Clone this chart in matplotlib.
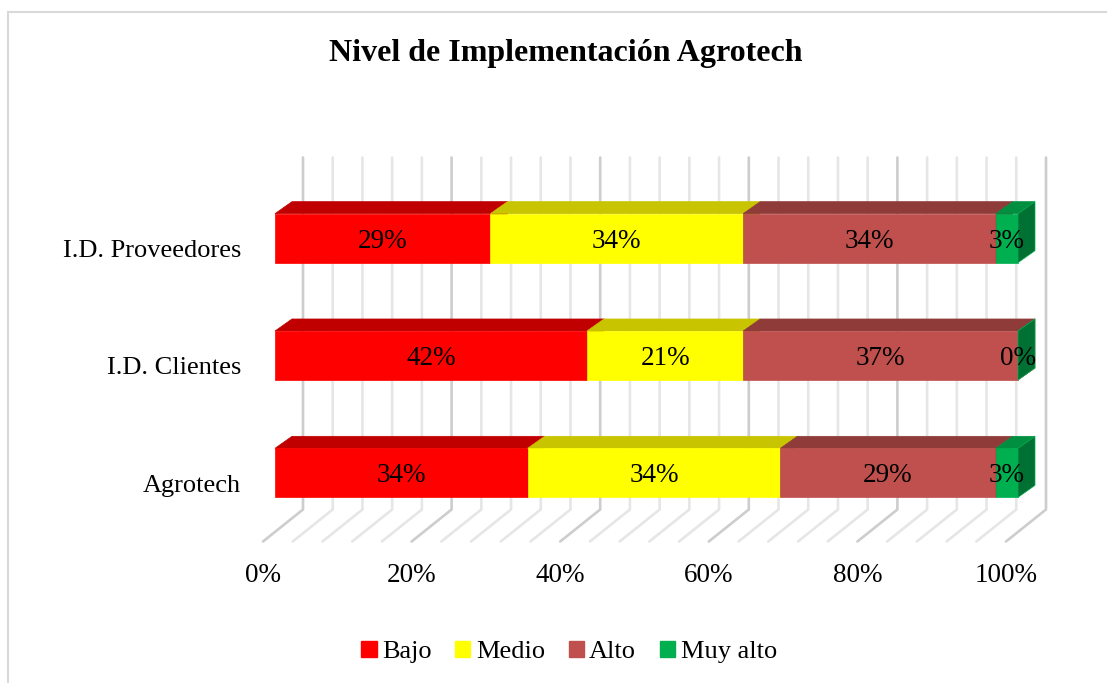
import matplotlib
matplotlib.use("Agg")
import matplotlib.pyplot as plt
from matplotlib.patches import Polygon, Patch, Rectangle
from matplotlib.transforms import offset_copy

# Datos del gráfico (porcentajes)
categorias = ["Agrotech", "I.D. Clientes", "I.D. Proveedores"]
series = ["Bajo", "Medio", "Alto", "Muy alto"]
bajo = [34, 42, 29]
medio = [34, 21, 34]
alto = [29, 37, 34]
muy_alto = [3, 0, 3]
ticks_x = [0, 20, 40, 60, 80, 100]

# colores: frente, cara superior, cara lateral
frente = ["#FF0000", "#FFFF00", "#C0504D", "#00B050"]
arriba = ["#C00000", "#C8C400", "#8E3B39", "#008E40"]
lado = ["#A00000", "#A8A400", "#7A3230", "#007033"]

plt.rcParams["font.family"] = ["Liberation Serif", "DejaVu Serif"]

W, H = 1107, 683
fig = plt.figure(figsize=(W / 100, H / 100), dpi=100)
ax_l, ax_r, ax_t, ax_b = 275, 1018, 179.5, 531.5
ax = fig.add_axes([ax_l / W, 1 - ax_b / H, (ax_r - ax_l) / W, (ax_b - ax_t) / H])
ax.set_xlim(0, 100)
ax.set_ylim(-0.5, 2.5)
ax.axis("off")

PX = 100 / (ax_r - ax_l)
PY = 3 / (ax_b - ax_t)


def off(x, y, dx, dy):
    # desplazamiento en pixeles (dy hacia abajo positivo)
    return (x + dx * PX, y - dy * PY)


# profundidad de la barra y de la pared
BD = (17, -12)
WALL = (28, -22)
FLOOR = (-12, 10)

# rejilla de la pared del fondo y del piso
for v in range(0, 101, 4):
    mayor = v % 20 == 0
    col = "#CDCDCD" if mayor else "#E6E6E6"
    p_top = off(v, 2.5, *WALL)
    p_bot = off(v, -0.5, *WALL)
    p_front = off(v, -0.5, *FLOOR)
    ax.plot([p_top[0], p_bot[0], p_front[0]], [p_top[1], p_bot[1], p_front[1]],
            color=col, lw=1.9, solid_capstyle="round", zorder=1, clip_on=False)

# barras 3D apiladas
h = 0.418 / 2
valores = [bajo, medio, alto, muy_alto]
tr_lab = offset_copy(ax.transData, fig=fig, x=0, y=-3, units="dots")
for i, cat in enumerate(categorias):
    izq = 0
    for s in range(len(series)):
        w = valores[s][i]
        der = izq + w
        top = [(izq, i + h), (der, i + h), off(der, i + h, *BD), off(izq, i + h, *BD)]
        ax.add_patch(Polygon(top, closed=True, fc=arriba[s], ec=arriba[s], lw=0.5,
                             zorder=3, clip_on=False))
        ax.barh(i, w, left=izq, height=2 * h, color=frente[s], edgecolor=frente[s],
                lw=0.5, zorder=3, clip_on=False)
        side = [(der, i - h), (der, i + h), off(der, i + h, *BD), off(der, i - h, *BD)]
        ax.add_patch(Polygon(side, closed=True, fc=lado[s], ec=frente[s], lw=0.5,
                             zorder=3, clip_on=False))
        ax.text(izq + w / 2, i, f"{w}%", transform=tr_lab, ha="center", va="center",
                fontsize=19.5, color="black", zorder=5)
        izq = der

# etiquetas del eje x en el borde frontal del piso
tr_x = offset_copy(ax.transData, fig=fig, x=-12, y=-44, units="dots")
for t in ticks_x:
    ax.text(t, -0.5, f"{t}%", transform=tr_x, ha="center", va="center", fontsize=19.5)

# etiquetas de categorias
tr_y = offset_copy(ax.transData, fig=fig, x=-34, y=-13, units="dots")
for i, cat in enumerate(categorias):
    ax.text(0, i, cat, transform=tr_y, ha="right", va="center", fontsize=19)

fig.text(566 / W, 1 - 53 / H, "Nivel de Implementación Agrotech", ha="center",
         va="center", fontsize=23, fontweight="bold")

handles = [Patch(facecolor=c, edgecolor=c) for c in frente]
fig.legend(handles, series, loc="center", bbox_to_anchor=(569 / W, 1 - 652 / H), ncol=4,
           frameon=False, fontsize=19, handlelength=0.58, handleheight=0.58,
           handletextpad=0.2, columnspacing=0.9)

fig.add_artist(Rectangle((8 / W, -0.1), 1.2, (H - 12) / H + 0.1, transform=fig.transFigure,
                         fill=False, ec="#D9D9D9", lw=1.5))

fig.savefig("out.png", dpi=100)
